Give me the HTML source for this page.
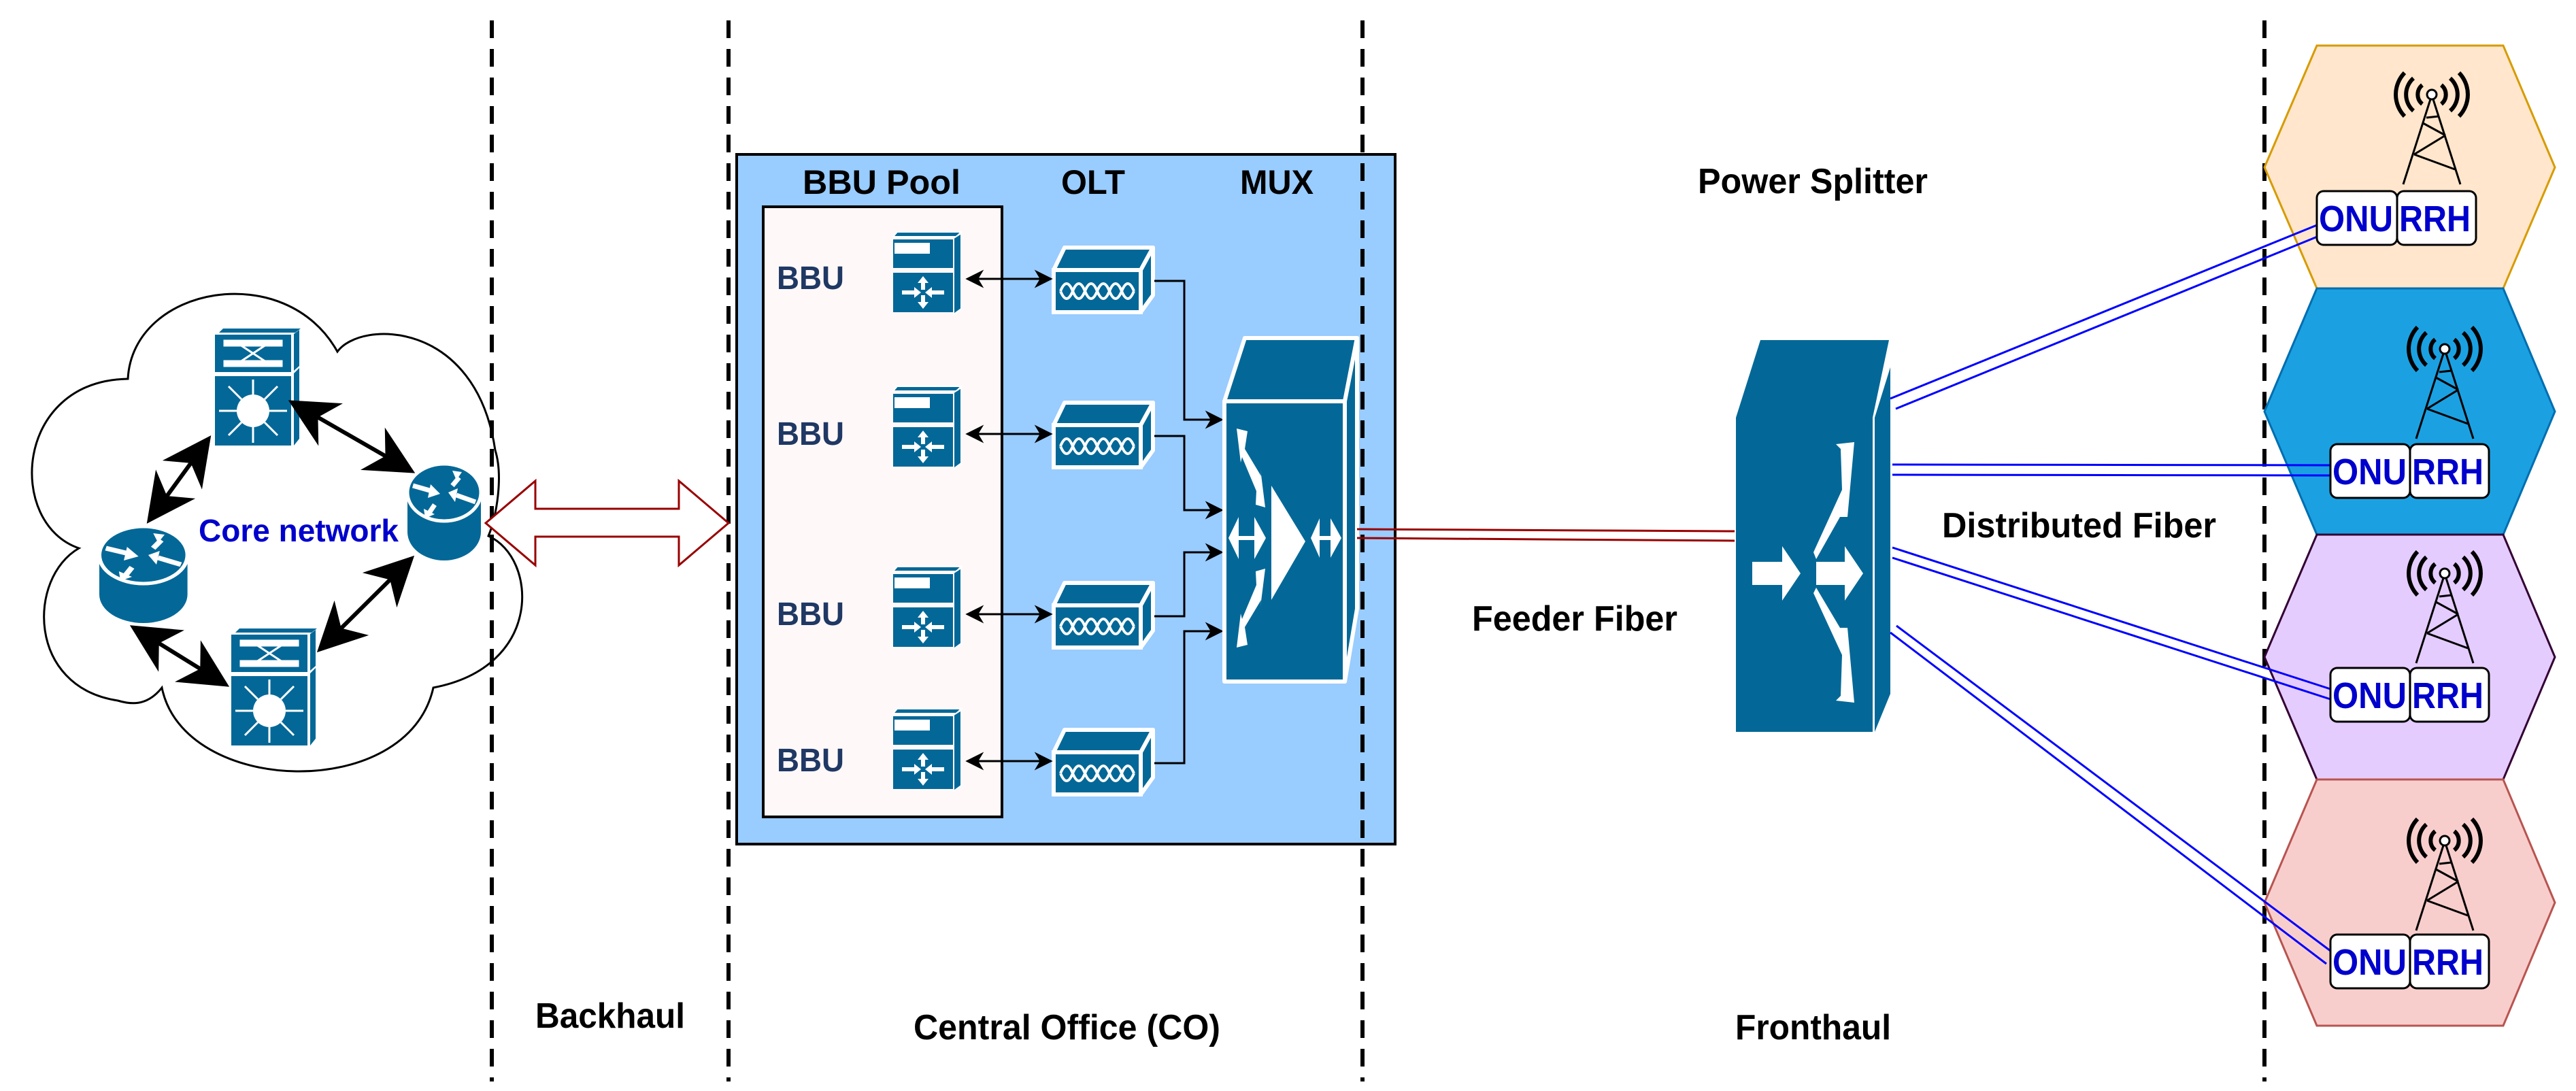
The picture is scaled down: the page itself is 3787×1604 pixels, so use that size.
<!DOCTYPE html>
<html><head><meta charset="utf-8"><style>
html,body{margin:0;padding:0;background:#fff;}
svg{display:block;}
text{font-family:"Liberation Sans",Arial,sans-serif;font-weight:bold;}
</style></head><body>
<svg width="3787" height="1604" viewBox="0 0 3787 1604" xmlns="http://www.w3.org/2000/svg">
<defs>
<marker id="ah" viewBox="0 0 10 10" refX="9" refY="5" markerWidth="9" markerHeight="9" markerUnits="strokeWidth" orient="auto-start-reverse"><path d="M0,0 L10,5 L0,10 L3,5 Z" fill="#000"/></marker>
<marker id="ahs" viewBox="0 0 10 10" refX="9" refY="5" markerWidth="12" markerHeight="12" markerUnits="strokeWidth" orient="auto-start-reverse"><path d="M0,0 L10,5 L0,10 L3,5 Z" fill="#000"/></marker>
<g id="srv">
 <polygon points="7,14 13,7 107,7 100,14" fill="#036897" stroke="#fff" stroke-width="2"/>
 <rect x="7" y="18" width="88" height="42" fill="#036897"/>
 <rect x="9" y="23" width="52" height="16" fill="#fff"/>
 <rect x="7" y="67" width="88" height="58" fill="#036897"/>
 <polygon points="96,16 107,9 107,120 96,128" fill="#036897" stroke="#fff" stroke-width="2"/>
 <g stroke="#fff" stroke-width="6" fill="#fff">
  <line x1="20" y1="96" x2="40" y2="96"/><polygon points="38,88 48,96 38,104" stroke="none"/>
  <line x1="82" y1="96" x2="62" y2="96"/><polygon points="64,88 54,96 64,104" stroke="none"/>
  <line x1="51" y1="92" x2="51" y2="80"/><polygon points="43,82 51,72 59,82" stroke="none"/>
  <line x1="51" y1="100" x2="51" y2="112"/><polygon points="43,110 51,120 59,110" stroke="none"/>
 </g>
</g>
<g id="olt">
 <polygon points="18,2 148,2 130,35 2,35" fill="#036897" stroke="#fff" stroke-width="6" stroke-linejoin="round"/>
 <rect x="2" y="35" width="128" height="62" fill="#036897" stroke="#fff" stroke-width="6"/>
 <polygon points="130,35 148,2 148,72 130,97" fill="#036897" stroke="#fff" stroke-width="6" stroke-linejoin="round"/>
 <path d="M12,66 q9,-22 18,0 q9,-22 18,0 q9,-22 18,0 q9,-22 18,0 q9,-22 18,0 q9,-22 18,0 M12,66 q9,22 18,0 q9,22 18,0 q9,22 18,0 q9,22 18,0 q9,22 18,0 q9,22 18,0" fill="none" stroke="#fff" stroke-width="4"/>
</g>
<g id="rtr">
 <path d="M0,42 L0,100 A54,42 0 0 0 108,100 L108,42 Z" fill="#036897"/>
 <ellipse cx="54" cy="42" rx="54" ry="42" fill="#036897" stroke="#fff" stroke-width="5"/>
 <g fill="#fff" stroke="#fff" stroke-width="7">
  <line x1="8" y1="32" x2="36" y2="40"/><polygon points="34,30 48,44 30,50" stroke="none"/>
  <line x1="100" y1="56" x2="72" y2="46"/><polygon points="74,36 60,42 70,56" stroke="none"/>
  <line x1="76" y1="20" x2="66" y2="32"/><polygon points="66,10 80,12 72,24" stroke="none"/>
  <line x1="40" y1="60" x2="32" y2="72"/><polygon points="24,66 26,80 40,74" stroke="none"/>
 </g>
</g>
<g id="sw">
 <polygon points="6,6 12,0 126,0 118,6" fill="#036897"/>
 <rect x="0" y="9" width="112" height="55" fill="#036897"/>
 <polygon points="116,8 124,2 124,55 116,62" fill="#036897"/>
 <g stroke="#fff" stroke-width="3" fill="#fff">
  <rect x="14" y="18" width="84" height="7"/><rect x="14" y="48" width="84" height="7"/>
  <line x1="34" y1="22" x2="78" y2="51"/><line x1="34" y1="51" x2="78" y2="22"/>
 </g>
 <rect x="0" y="70" width="112" height="102" fill="#036897"/>
 <polygon points="116,66 124,58 124,162 116,172" fill="#036897"/>
 <circle cx="56" cy="121" r="24" fill="#fff"/>
 <g stroke="#fff" stroke-width="3">
  <line x1="56" y1="97" x2="56" y2="75"/><line x1="56" y1="145" x2="56" y2="168"/>
  <line x1="32" y1="121" x2="6" y2="121"/><line x1="80" y1="121" x2="106" y2="121"/>
  <line x1="39" y1="104" x2="20" y2="85"/><line x1="73" y1="104" x2="92" y2="85"/>
  <line x1="39" y1="138" x2="20" y2="157"/><line x1="73" y1="138" x2="92" y2="157"/>
 </g>
</g>
<g id="twr" fill="none" stroke="#000" stroke-width="3">
 <circle cx="0" cy="6" r="7" fill="#fff"/>
 <line x1="-2" y1="13" x2="-42" y2="138"/><line x1="2" y1="13" x2="42" y2="138"/>
 <line x1="-13" y1="48" x2="20" y2="66"/><line x1="20" y1="66" x2="-26" y2="94"/><line x1="-26" y1="94" x2="34" y2="116"/>
 <line x1="-8" y1="40" x2="10" y2="38"/>
 <path d="M-14,-8 A18,18 0 0 0 -14,20 M14,-8 A18,18 0 0 1 14,20" stroke-width="6"/>
 <path d="M-27,-18 A32,32 0 0 0 -27,30 M27,-18 A32,32 0 0 1 27,30" stroke-width="6"/>
 <path d="M-40,-26 A46,46 0 0 0 -40,38 M40,-26 A46,46 0 0 1 40,38" stroke-width="6"/>
</g>
</defs>

<!-- cloud -->
<path d="M188,557 C195,420 420,380 496,517 C530,470 700,470 728,662 C740,700 730,760 718,788 C790,820 800,980 637,1011 C600,1180 270,1170 238,1011 C215,1040 190,1035 173,1030 C40,1010 40,850 116,806 C10,770 20,560 188,557 Z" fill="#fff" stroke="#000" stroke-width="3"/>

<!-- CO box -->
<rect x="1083" y="227" width="968" height="1014" fill="#99CCFF" stroke="#000" stroke-width="4"/>
<rect x="1122" y="304" width="351" height="897" fill="#FFF8F8" stroke="#000" stroke-width="4"/>

<!-- dashed lines -->
<g stroke="#000" stroke-width="6" stroke-dasharray="26 16">
 <line x1="723" y1="30" x2="723" y2="1590"/>
 <line x1="1071" y1="30" x2="1071" y2="1590"/>
 <line x1="2003" y1="30" x2="2003" y2="1590"/>
 <line x1="3329" y1="30" x2="3329" y2="1590"/>
</g>

<!-- cloud devices -->
<use href="#sw" x="316" y="483"/>
<use href="#sw" x="340" y="924"/>
<use href="#rtr" transform="translate(146,774) scale(1.2,1)"/>
<use href="#rtr" transform="translate(599,682)"/>
<text x="292" y="796" font-size="46" fill="#0000CC" textLength="294" lengthAdjust="spacingAndGlyphs">Core network</text>
<g stroke="#000" stroke-width="6" marker-start="url(#ahs)" marker-end="url(#ahs)">
 <line x1="306" y1="646" x2="220" y2="764"/>
 <line x1="430" y1="592" x2="604" y2="692"/>
 <line x1="604" y1="822" x2="471" y2="954"/>
 <line x1="197" y1="923" x2="331" y2="1006"/>
</g>

<!-- backhaul hollow arrow -->
<polygon points="714,769 787,707 787,748 998,748 998,707 1071,769 998,831 998,789 787,789 787,831" fill="#fff" stroke="#990000" stroke-width="3"/>

<!-- BBU pool -->
<g font-size="48" fill="#1F3864">
 <text x="1142" y="425" textLength="99" lengthAdjust="spacingAndGlyphs">BBU</text>
 <text x="1142" y="654" textLength="99" lengthAdjust="spacingAndGlyphs">BBU</text>
 <text x="1142" y="919" textLength="99" lengthAdjust="spacingAndGlyphs">BBU</text>
 <text x="1142" y="1134" textLength="99" lengthAdjust="spacingAndGlyphs">BBU</text>
</g>
<g font-size="50" fill="#000">
 <text x="1180" y="285" textLength="232" lengthAdjust="spacingAndGlyphs">BBU Pool</text>
 <text x="1560" y="285" textLength="94" lengthAdjust="spacingAndGlyphs">OLT</text>
 <text x="1823" y="285" textLength="108" lengthAdjust="spacingAndGlyphs">MUX</text>
</g>
<use href="#srv" x="1306" y="334"/>
<use href="#srv" x="1306" y="561"/>
<use href="#srv" x="1306" y="826"/>
<use href="#srv" x="1306" y="1035"/>
<use href="#olt" x="1547" y="362"/>
<use href="#olt" x="1547" y="590"/>
<use href="#olt" x="1547" y="855"/>
<use href="#olt" x="1547" y="1071"/>
<g stroke="#000" stroke-width="3" marker-start="url(#ah)" marker-end="url(#ah)">
 <line x1="1422" y1="410" x2="1545" y2="410"/>
 <line x1="1422" y1="638" x2="1545" y2="638"/>
 <line x1="1422" y1="903" x2="1545" y2="903"/>
 <line x1="1422" y1="1119" x2="1545" y2="1119"/>
</g>
<g stroke="#000" stroke-width="3" fill="none" marker-end="url(#ah)">
 <polyline points="1697,413 1741,413 1741,617 1796,617"/>
 <polyline points="1697,641 1741,641 1741,750 1796,750"/>
 <polyline points="1697,906 1741,906 1741,812 1796,812"/>
 <polyline points="1697,1122 1741,1122 1741,928 1796,928"/>
</g>

<!-- MUX -->
<g stroke="#fff" stroke-width="6" stroke-linejoin="round">
 <polygon points="1830,497 1995,497 1977,590 1800,590" fill="#036897"/>
 <polygon points="1977,590 1995,497 1995,895 1977,1002" fill="#036897"/>
 <rect x="1800" y="590" width="177" height="412" fill="#036897"/>
</g>
<g fill="#fff">
 <polygon points="1869,714 1919,796 1869,882"/>
 <polygon points="1806,791 1821,760 1821,788 1844,788 1844,760 1861,791 1844,822 1844,794 1821,794 1821,822"/>
 <polygon points="1927,791 1940,762 1940,788 1956,788 1956,762 1972,791 1956,820 1956,794 1940,794 1940,820"/>
 <polygon points="1818,630 1834,634 1830,660 1854,700 1853,690 1860,746 1846,742 1847,722 1826,672 1824,680"/>
 <polygon points="1818,952 1834,948 1830,922 1854,882 1853,892 1860,836 1846,840 1847,860 1826,910 1824,902"/>
</g>

<!-- feeder fiber -->
<g stroke="#990000" stroke-width="3">
 <line x1="1995" y1="778" x2="2550" y2="781"/>
 <line x1="1995" y1="791" x2="2550" y2="795"/>
</g>

<!-- splitter -->
<polygon points="2588,500 2777,500 2753,614 2552,614" fill="#036897"/>
<polygon points="2756,614 2779,540 2779,1020 2756,1076" fill="#036897"/>
<rect x="2552" y="614" width="201" height="462" fill="#036897"/>
<g fill="#fff">
 <polygon points="2576,826 2620,826 2620,803 2647,843 2620,883 2620,860 2576,860"/>
 <polygon points="2670,826 2712,826 2712,803 2739,843 2712,883 2712,860 2670,860"/>
 <polygon points="2699,653 2726,650 2716,760 2705,760 2670,822 2666,812 2708,720 2706,660"/>
 <polygon points="2699,1030 2726,1033 2716,923 2705,923 2670,864 2666,872 2708,963 2706,1023"/>
</g>

<!-- hexagons -->
<polygon points="3329,246 3406,67 3680,67 3756,246 3680,424 3406,424" fill="#FFE6CC" stroke="#D79B00" stroke-width="3"/>
<polygon points="3329,605 3406,424 3680,424 3756,605 3680,786 3406,786" fill="#1BA1E2" stroke="#006EAF" stroke-width="3"/>
<polygon points="3329,966 3406,786 3680,786 3756,966 3680,1146 3406,1146" fill="#E5CCFF" stroke="#330033" stroke-width="3"/>
<polygon points="3329,1327 3406,1146 3680,1146 3756,1327 3680,1508 3406,1508" fill="#F8CECC" stroke="#B85450" stroke-width="3"/>

<use href="#twr" x="3575" y="133"/>
<use href="#twr" x="3594" y="507"/>
<use href="#twr" x="3594" y="837"/>
<use href="#twr" x="3594" y="1230"/>

<!-- blue fibers -->
<g stroke="#0000FF" stroke-width="3">
 <line x1="2779" y1="586" x2="3406" y2="331"/><line x1="2787" y1="601" x2="3409" y2="347"/>
 <line x1="2782" y1="683" x2="3426" y2="684"/><line x1="2782" y1="698" x2="3426" y2="699"/>
 <line x1="2782" y1="805" x2="3426" y2="1013"/><line x1="2782" y1="820" x2="3426" y2="1028"/>
 <line x1="2788" y1="920" x2="3426" y2="1398"/><line x1="2779" y1="930" x2="3420" y2="1417"/>
</g>

<!-- ONU / RRH -->
<g fill="#fff" stroke="#000" stroke-width="3">
 <rect x="3406" y="281" width="118" height="79" rx="10"/><rect x="3524" y="281" width="116" height="79" rx="10"/>
 <rect x="3426" y="653" width="117" height="79" rx="10"/><rect x="3543" y="653" width="116" height="79" rx="10"/>
 <rect x="3426" y="982" width="117" height="79" rx="10"/><rect x="3543" y="982" width="116" height="79" rx="10"/>
 <rect x="3426" y="1374" width="117" height="79" rx="10"/><rect x="3543" y="1374" width="116" height="79" rx="10"/>
</g>
<g font-size="54" fill="#0000CC">
 <text x="3409" y="340" textLength="109" lengthAdjust="spacingAndGlyphs">ONU</text><text x="3527" y="340" textLength="105" lengthAdjust="spacingAndGlyphs">RRH</text>
 <text x="3429" y="712" textLength="109" lengthAdjust="spacingAndGlyphs">ONU</text><text x="3546" y="712" textLength="105" lengthAdjust="spacingAndGlyphs">RRH</text>
 <text x="3429" y="1041" textLength="109" lengthAdjust="spacingAndGlyphs">ONU</text><text x="3546" y="1041" textLength="105" lengthAdjust="spacingAndGlyphs">RRH</text>
 <text x="3429" y="1433" textLength="109" lengthAdjust="spacingAndGlyphs">ONU</text><text x="3546" y="1433" textLength="105" lengthAdjust="spacingAndGlyphs">RRH</text>
</g>

<!-- labels -->
<g font-size="52" fill="#000">
 <text x="787" y="1511" textLength="220" lengthAdjust="spacingAndGlyphs">Backhaul</text>
 <text x="1343" y="1528" textLength="451" lengthAdjust="spacingAndGlyphs">Central Office (CO)</text>
 <text x="2551" y="1528" textLength="229" lengthAdjust="spacingAndGlyphs">Fronthaul</text>
 <text x="2496" y="284" textLength="338" lengthAdjust="spacingAndGlyphs">Power Splitter</text>
 <text x="2164" y="927" textLength="302" lengthAdjust="spacingAndGlyphs">Feeder Fiber</text>
 <text x="2855" y="790" textLength="403" lengthAdjust="spacingAndGlyphs">Distributed Fiber</text>
</g>
</svg>
</body></html>
